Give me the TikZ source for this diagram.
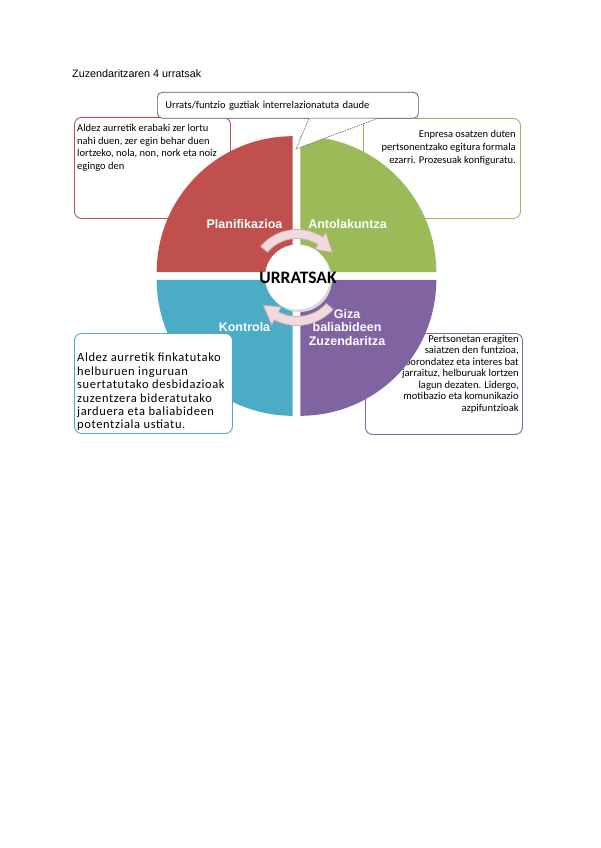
\documentclass[tikz,border=0pt]{standalone}
\usepackage{fontspec}
\setmainfont{Carlito}
\newfontfamily\arialfont{Liberation Sans}
\usepackage{tikz}
\usetikzlibrary{arrows.meta, positioning, calc}
\usepackage{xcolor}
\definecolor{planred}{RGB}{192,80,77}
\definecolor{antgreen}{RGB}{155,187,89}
\definecolor{kontblue}{RGB}{75,172,198}
\definecolor{gizapurple}{RGB}{128,100,162}
\definecolor{arrowpink}{RGB}{240,218,222}
\definecolor{arrowedge}{RGB}{214,170,178}
\definecolor{calloutgray}{RGB}{90,90,90}

\begin{document}
\begin{tikzpicture}[x=1pt, y=-1pt,
        infobox/.style={rectangle, rounded corners=7pt, line width=0.9pt, fill=white,
                        anchor=north west, inner sep=0pt},
        boxtext/.style={inner sep=0pt, font=\fontsize{10.5}{12.7}\selectfont},
        quadlabel/.style={text=white, align=center, inner sep=0pt,
                          font=\arialfont\bfseries\fontsize{12.5}{13.5}\selectfont},
        circarrow/.style={fill=arrowpink, draw=arrowedge, line width=0.7pt, line join=round}
    ]
        \useasboundingbox (0,0) rectangle (600,848);

        \node[anchor=base west, inner sep=0pt, font=\arialfont\fontsize{10.8}{12}\selectfont]
            (title) at (72,78) {Zuzendaritzaren 4 urratsak};

        % Testu-koadroak (zirkuluaren atzean)
        \node[infobox, draw=planred, minimum width=156pt, minimum height=101pt] (planbox) at (74,117) {};
        \node[infobox, draw=antgreen, minimum width=157pt, minimum height=100pt] (antbox) at (363,118) {};
        \node[infobox, draw=gizapurple, minimum width=157pt, minimum height=101pt] (gizabox) at (365,333) {};

        \node[boxtext, anchor=north west, align=left] (plantext) at ([shift={(3,7)}]planbox.north west)
            {Aldez aurretik erabaki zer lortu\\nahi duen, zer egin behar duen\\lortzeko, nola, non, nork eta noiz\\egingo den};
        \node[boxtext, anchor=north east, align=right, font=\fontsize{10.5}{13}\selectfont] (anttext)
            at ([shift={(-5,12)}]antbox.north east)
            {Enpresa osatzen duten\\pertsonentzako egitura formala\\ezarri. Prozesuak konfiguratu.};
        \node[boxtext, anchor=north east, align=right, font=\fontsize{10.6}{11.5}\selectfont] (gizatext)
            at ([shift={(-4,2)}]gizabox.north east)
            {Pertsonetan eragiten\\saiatzen den funtzioa,\\borondatez eta interes bat\\jarraituz, helburuak lortzen\\lagun dezaten. Lidergo,\\motibazio eta komunikazio\\azpifuntzioak};

        % Lau koadranteak
        \fill[planred] (292.7,272.2) -- ++(-136,0) arc[start angle=180, end angle=270, radius=136] -- cycle;
        \fill[antgreen] (300.3,272.2) -- ++(0,-136) arc[start angle=270, end angle=360, radius=136] -- cycle;
        \fill[gizapurple] (300.3,279.8) -- ++(136,0) arc[start angle=0, end angle=90, radius=136] -- cycle;
        \fill[kontblue] (292.7,279.8) -- ++(0,136) arc[start angle=90, end angle=180, radius=136] -- cycle;

        % Kontrolaren koadroa koadrantearen gainean
        \node[infobox, draw=kontblue, minimum width=158pt, minimum height=100pt] (kontbox) at (74,333) {};
        \node[boxtext, anchor=north west, align=left,
              font=\fontsize{12.5}{13.4}\selectfont\addfontfeature{LetterSpace=5}] (konttext)
            at ([shift={(3,20)}]kontbox.north west)
            {Aldez aurretik finkatutako\\helburuen inguruan\\suertatutako desbidazioak\\zuzentzera bideratutako\\jarduera eta baliabideen\\potentziala ustiatu.};

        \node[quadlabel] (plan) at (244.5,224) {Planifikazioa};
        \node[quadlabel] (ant) at (347.5,224) {Antolakuntza};
        \node[quadlabel] (kont) at (244.5,327) {Kontrola};
        \node[quadlabel] (giza) at (347,327.5) {Giza\\baliabideen\\Zuzendaritza};

        % Gezi zirkularrak
        \begin{scope}[shift={(297,277)}]
            \filldraw[circarrow] (220:47.5) arc[start angle=220, end angle=303, radius=47.5]
                -- (303:53) -- (325:43) -- (303:33) -- (303:38.5)
                arc[start angle=303, end angle=220, radius=38.5] -- cycle;
            \filldraw[circarrow] (42:48.5) arc[start angle=42, end angle=118, radius=48.5]
                -- (118:54) -- (140:44) -- (118:34) -- (118:39.5)
                arc[start angle=118, end angle=42, radius=39.5] -- cycle;
        \end{scope}

        % Erdiko zirkulua
        \fill[black!15] (299.5,279.5) circle[radius=32.5];
        \node[circle, fill=white, minimum size=65pt, inner sep=0pt] (center) at (297.5,277) {};
        \node[font=\bfseries\fontsize{17.5}{19}\selectfont, inner sep=0pt] (urratsak) at (298,278) {URRATSAK};

        % Bunbuiloa
        \node[rectangle, rounded corners=5pt, draw=calloutgray, line width=0.7pt, fill=white,
              anchor=north west, minimum width=261pt, minimum height=26pt, text width=245pt,
              align=left, inner xsep=8pt, font=\fontsize{10.5}{12}\selectfont] (callout) at (157,92)
            {Urrats/funtzio guztiak interrelazionatuta daude};
        \coordinate (calltip) at (296,149);
        \fill[white] ([xshift=152pt]callout.south west) -- (calltip) -- ([xshift=220pt]callout.south west) -- cycle;
        \draw[calloutgray, line width=0.6pt, dashed, dash pattern=on 1.5pt off 1pt]
            ([xshift=152pt]callout.south west) -- (calltip) -- ([xshift=220pt]callout.south west);
    \end{tikzpicture}
\end{document}
